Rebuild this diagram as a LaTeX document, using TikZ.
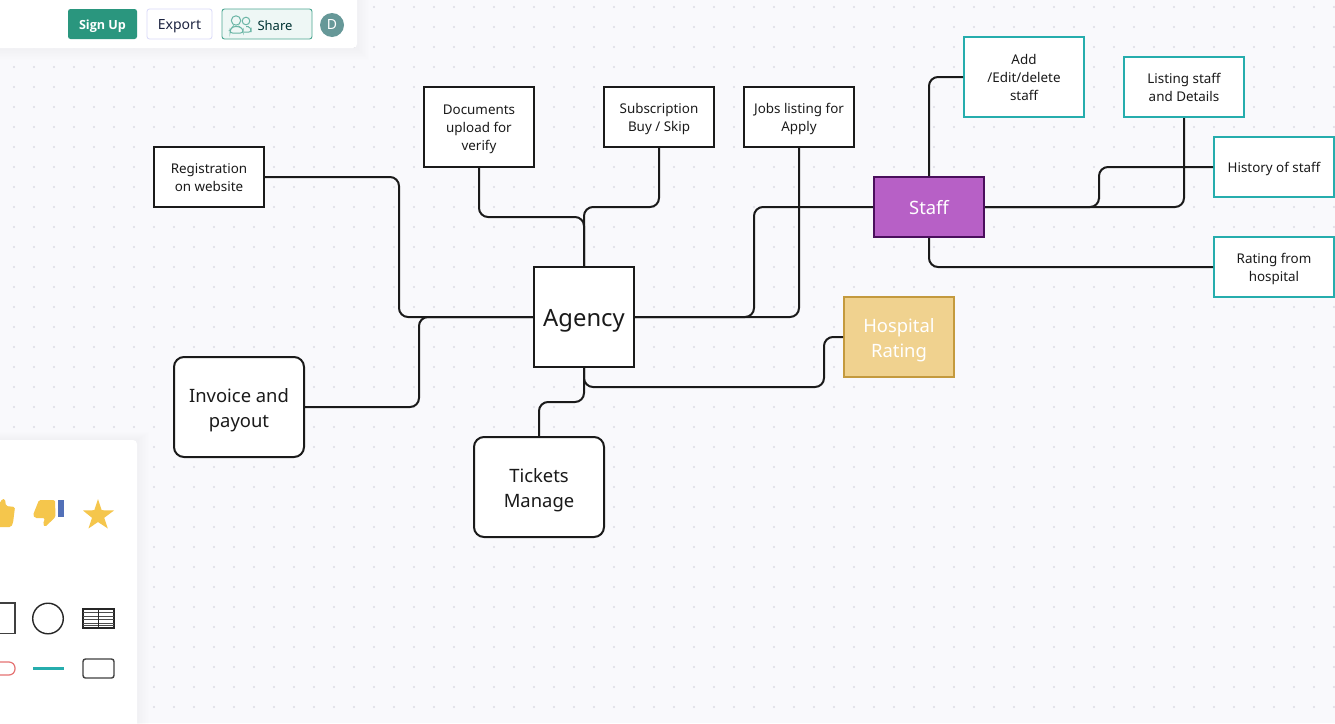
\documentclass[tikz,border=0pt]{standalone}
\usepackage{fontspec}
\setmainfont{Noto Sans}
\newfontfamily\btnfont{Open Sans}
\definecolor{bgc}{HTML}{F9F9FC}
\definecolor{dotc}{HTML}{DCDCE4}
\definecolor{inkc}{HTML}{1A1A1A}
\definecolor{tealc}{HTML}{26ADAD}
\definecolor{purplec}{HTML}{B760C6}
\definecolor{purpled}{HTML}{4A0F5C}
\definecolor{sandc}{HTML}{F0D28F}
\definecolor{sandd}{HTML}{C49A3E}
\definecolor{signc}{HTML}{2A967E}
\definecolor{yellowc}{HTML}{F5C64C}
\definecolor{bluec}{HTML}{5270B8}
\definecolor{navyc}{HTML}{1C2340}
\newcommand{\topstrut}{\rule{0pt}{\dimexpr\ht\strutbox+0.3em\relax}}
\tikzset{x=1pt,y=-1pt,
  box/.style={draw=inkc,line width=2pt,fill=white,align=center,inner sep=0pt,font=\fontsize{13.4}{18}\selectfont,text=inkc},
  tealbox/.style={box,draw=tealc},
  bigbox/.style={box,font=\fontsize{18.4}{25}\selectfont},
  roundbox/.style={bigbox,rounded corners=10pt},
  conn/.style={draw=inkc,line width=2pt,rounded corners=9pt},
  panel/.style={fill=white},
  icon/.style={draw=black!85,line width=1.4pt,fill=white},
  btn/.style={rounded corners=2.5pt,minimum height=30pt,inner sep=0pt},
}
\newcommand{\nbox}[7][box]{\node[#1,minimum width=#4-#3,minimum height=#6-#5] (#2) at ({(#3+#4)/2},{(#5+#6)/2}) {\topstrut #7\strut};}
\begin{document}
\begin{tikzpicture}
\useasboundingbox (0,0) rectangle (1335,723);
\fill[bgc] (0,0) rectangle (1335,723);
\foreach \i in {0,...,66} \foreach \j in {0,...,35}
  \fill[dotc] ({14+20*\i},{7+20*\j}) circle (1.1pt);

% connector way-points
\coordinate (wReg) at (399,250);
\coordinate (wInv) at (419,360);
\coordinate (wDoc) at (530,217);
\coordinate (wSub) at (620,207);
\coordinate (wStaff) at (754,260);
\coordinate (wHist) at (1099,190);
\coordinate (wHosp) at (824,360);
\coordinate (wHospB) at (700,387);
\coordinate (wTick) at (560,402);

% panels
\foreach \k in {1,...,8}
  \fill[black,opacity=0.004] (-20,-20) rectangle ({357+\k*1.5},{48+\k*1.5});
\foreach \k in {1,...,8}
  \fill[black,opacity=0.004] (-20,{440-\k}) rectangle ({137+\k*1.5},743);
\fill[panel,rounded corners=4pt] (-20,-20) rectangle (357,48);
\fill[panel,rounded corners=4pt] (-20,440) rectangle (137,743);

% toolbar
\node[btn,fill=signc,minimum width=69pt,text=white,font=\btnfont\fontsize{12.6}{18}\selectfont\bfseries] (signup) at (102.5,24) {\topstrut Sign Up\strut};
\node[btn,draw=black!15!blue!15,fill=white,line width=0.8pt,minimum width=65pt,text=navyc,font=\fontsize{14}{18}\selectfont] (export) at (179.5,24) {\topstrut Export\strut};
\node[btn,draw=signc!85!white,fill=signc!8,line width=0.9pt,minimum width=90pt] (share) at (267,24) {};
\node[inner sep=0pt,text=black!60!teal,font=\fontsize{13}{18}\selectfont] (sharetxt) at (275,24.5) {\topstrut Share\strut};
\node[circle,fill=black!35!teal!60,minimum size=24pt,inner sep=0pt,text=white,font=\fontsize{14}{16}\selectfont] (avatar) at (332,25) {D};
\begin{scope}[draw=signc!70!white,line width=1pt,fill=none]
  \draw (236,20.5) circle (4.7pt);
  \draw (246,21) circle (3.8pt);
  \draw[rounded corners=2.5pt] (230,33) -- (230,30) -- (233,26.5) -- (239,26.5) -- (243,29) -- (243,33) -- cycle;
  \draw[rounded corners=2pt] (246,26.5) -- (250,26.5) -- (251,30) -- (251,32) -- (244,32);
\end{scope}

% icons
\begin{scope}
  \clip (0,440) rectangle (137,723);
  \fill[yellowc,rounded corners=1.5pt] (0,503) -- (2,499) -- (5,499) -- (6,506) -- (15,507) -- (13,523) -- (11,527) -- (-5,527) -- (-5,503) -- cycle;
  \draw[black!75,line width=1.4pt] (-10,603) rectangle (15,633.5);
  \draw[red!50!white!90!black,line width=1.2pt,rounded corners=6pt] (-10,662) rectangle (15,675);
\end{scope}
\fill[yellowc,rounded corners=1.5pt] (39,500) -- (55,500) -- (55.5,517) -- (45,527) -- (43,524) -- (45,518) -- (35,518) -- (33,515) -- cycle;
\fill[bluec] (58,500) rectangle (64,517);
\fill[yellowc] (98,499) -- (101.7,510.2) -- (114,510.5) -- (104.2,517.8) -- (107.8,528.5) -- (98,522) -- (88.5,528.5) -- (92,517.8) -- (83,510.5) -- (94.3,510.2) -- cycle;
\draw[icon] (48,618.5) circle (15.3pt);
\draw[black!85,line width=1.3pt] (83,609) rectangle (114,628);
\foreach \yy in {612.5,616,619.5,623,625.5} \draw[black!70,line width=0.8pt] (83,\yy) -- (114,\yy);
\draw[black!85,line width=1.2pt] (98.5,609) -- (98.5,628);
\draw[tealc,line width=3pt] (33,668) -- (64,668);
\draw[black!75,line width=1.4pt,rounded corners=2.5pt] (83,659) rectangle (114,678);

% nodes
\nbox{reg}{154}{264}{147}{207}{Registration\\on website}
\nbox{doc}{424}{534}{87}{167}{Documents\\upload for\\verify}
\nbox{sub}{604}{714}{87}{147}{Subscription\\Buy / Skip}
\nbox{job}{744}{854}{87}{147}{Jobs listing for\\Apply}
\nbox[tealbox]{add}{964}{1084}{37}{117}{Add\\/Edit/delete\\staff}
\nbox[tealbox]{list}{1124}{1244}{57}{117}{Listing staff\\and Details}
\nbox[tealbox]{hist}{1214}{1334}{137}{197}{History of staff}
\nbox[tealbox]{rate}{1214}{1334}{237}{297}{Rating from\\hospital}
\nbox[box,draw=purpled,fill=purplec,text=white,font=\fontsize{18.4}{25}\selectfont]{staff}{874}{984}{177}{237}{Staff}
\nbox[box,font=\fontsize{23.8}{30}\selectfont]{agency}{534}{634}{267}{367}{Agency}
\nbox[box,draw=sandd,fill=sandc,text=white,font=\fontsize{18.4}{25}\selectfont]{hosp}{844}{954}{297}{377}{Hospital\\Rating}
\nbox[roundbox]{inv}{174}{304}{357}{457}{Invoice and\\payout}
\nbox[roundbox]{tick}{474}{604}{437}{537}{Tickets\\Manage}

% connectors
\draw[conn] (reg.east) -| (wReg) |- (agency.west);
\draw[conn] (inv.east) -| (wInv) |- (agency.west);
\draw[conn] (doc.south) |- (wDoc) -| (agency.north);
\draw[conn] (sub.south) |- (wSub) -| (agency.north);
\draw[conn] (job.south) |- (agency.east);
\draw[conn] (staff.west) -| (wStaff) |- (agency.east);
\draw[conn] (staff.north) |- (add.west);
\draw[conn] (list.south) |- (staff.east);
\draw[conn] (hist.west) -| (wHist) |- (staff.east);
\draw[conn] (staff.south) |- (rate.west);
\draw[conn] (hosp.west) -| (wHosp) |- (wHospB) -| (agency.south);
\draw[conn] (tick.north) |- (wTick) -| (agency.south);
\end{tikzpicture}
\end{document}
